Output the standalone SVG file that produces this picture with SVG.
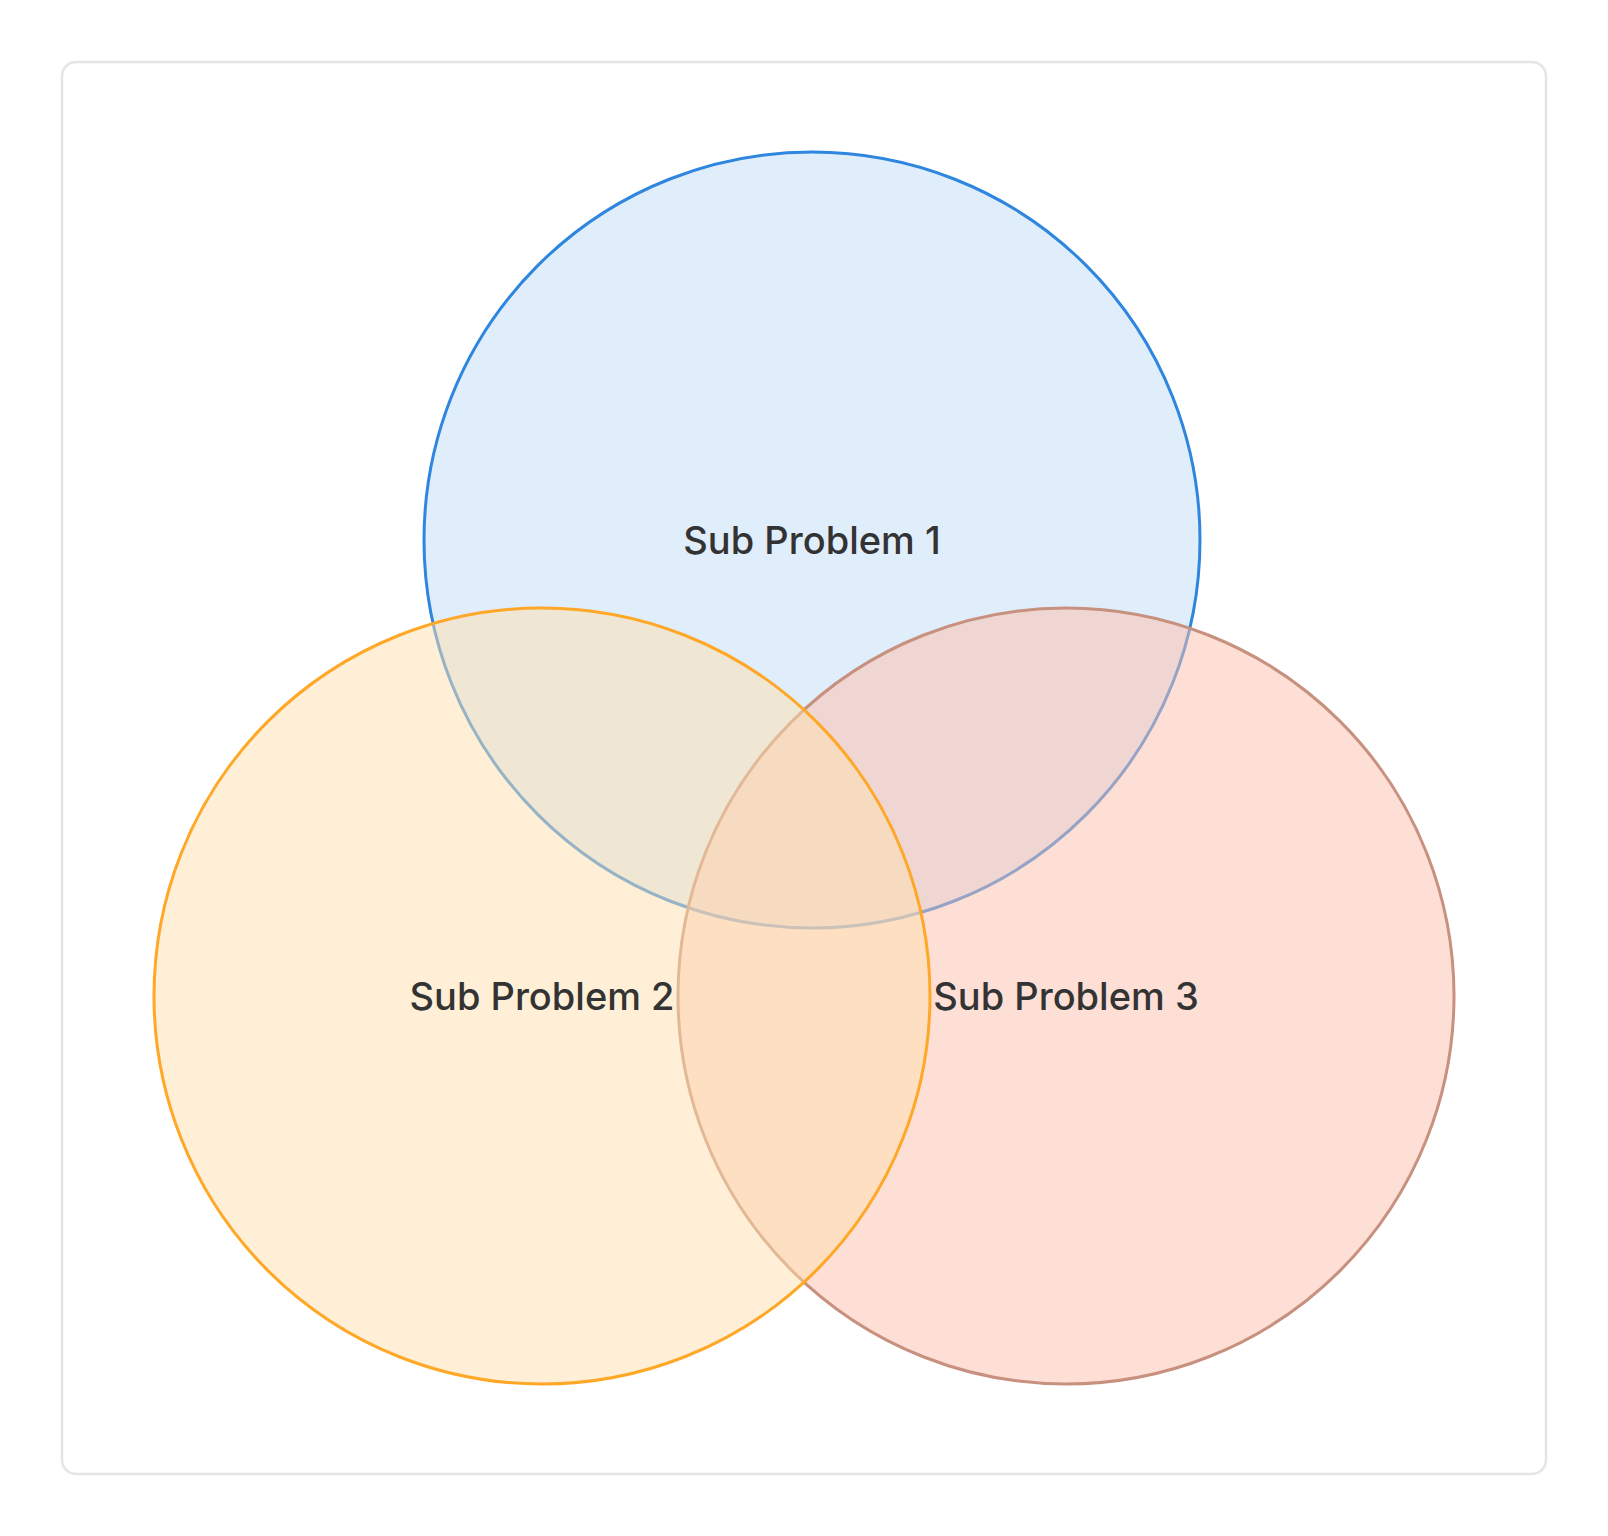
<svg xmlns="http://www.w3.org/2000/svg" width="1608" height="1536" viewBox="0 0 1608 1536">
  <style>
    .set { stroke-width: 3; }
    .label { font-family: Inter, "Liberation Sans", sans-serif; font-size: 38px; font-weight: 500; fill: #333333; text-anchor: middle; }
  </style>
  <rect width="1608" height="1536" fill="#ffffff"/>
  <rect id="frame" x="62" y="62" width="1484" height="1412" rx="14" ry="14" fill="#ffffff" stroke="#e5e5e5" stroke-width="2.5"/>
  <g id="set1">
    <circle class="set" cx="812" cy="540" r="388" fill="rgb(193,219,245)" fill-opacity="0.5" stroke="#2e86de"/>
  </g>
  <g id="set3">
    <circle class="set" cx="1066" cy="996" r="388" fill="rgb(253,191,171)" fill-opacity="0.5" stroke="#c8907e"/>
  </g>
  <g id="set2">
    <circle class="set" cx="542" cy="996" r="388" fill="rgb(253,223,173)" fill-opacity="0.5" stroke="#ffa726"/>
  </g>
  <g id="labels">
    <text class="label" x="812" y="554">Sub Problem 1</text>
    <text class="label" x="542" y="1010">Sub Problem 2</text>
    <text class="label" x="1066" y="1010">Sub Problem 3</text>
  </g>
</svg>
